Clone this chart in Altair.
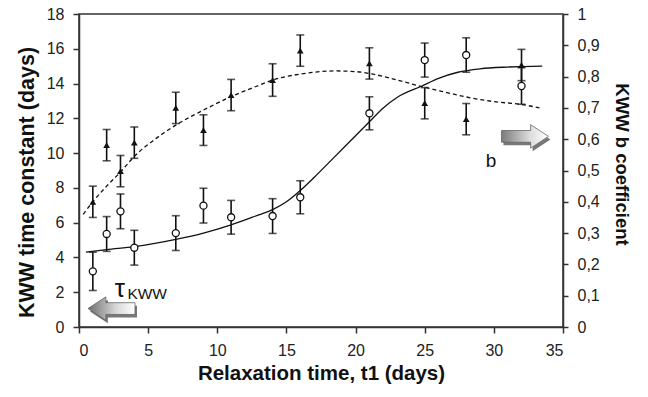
import altair as alt
import pandas as pd

# ---- data ----
t_x = [1, 2, 3, 4, 7, 9, 11, 14, 16, 21, 25, 28, 32]
tau = [3.2, 5.35, 6.65, 4.56, 5.4, 6.98, 6.31, 6.38, 7.46, 12.29, 15.35, 15.64, 13.86]
tau_err = [1.1, 1.0, 1.0, 1.0, 1.0, 1.0, 0.97, 1.0, 0.95, 0.95, 0.98, 0.99, 1.05]

b_x = [1, 2, 3, 4, 7, 9, 11, 14, 16, 21, 25, 28, 32]
b_val = [0.40, 0.581, 0.498, 0.589, 0.70, 0.629, 0.741, 0.789, 0.883, 0.842, 0.715, 0.664, 0.837]
b_err = [0.05, 0.05, 0.05, 0.05, 0.05, 0.049, 0.05, 0.052, 0.05, 0.05, 0.05, 0.05, 0.05]

tau_fit_x = [0.5, 2, 4, 7, 9, 11, 13, 14, 15, 16, 17, 18.5, 20, 21, 22, 23, 24.8, 26, 27.4, 29, 31, 33.5]
tau_fit_y = [4.3, 4.45, 4.62, 5.04, 5.4, 5.87, 6.45, 6.75, 7.2, 7.85, 8.6, 9.8, 11.0, 11.8, 12.6, 13.2, 13.86, 14.3, 14.65, 14.85, 14.95, 15.0]

b_fit_x = [0.3, 1, 2, 3, 4, 5.5, 7, 9, 11, 13, 14, 16, 18.5, 20, 21, 22.5, 24.8, 26.5, 28, 30, 32, 33.3]
b_fit_y = [0.36, 0.40, 0.45, 0.495, 0.545, 0.60, 0.645, 0.693, 0.736, 0.772, 0.789, 0.808, 0.818, 0.816, 0.81, 0.795, 0.768, 0.75, 0.735, 0.72, 0.711, 0.70]

# annotation anchors (data coordinates)
arrow_left = {"x": 2.35, "y": 1.06}
arrow_right = {"x": 32.25, "y": 0.609}
tau_label = {"x": 2.95, "y": 1.73}
kww_label = {"x": 3.5, "y": 1.62}
b_label = {"x": 29.8, "y": 0.511}

FONT = "Liberation Sans"

tau_df = pd.DataFrame({"x": t_x, "v": tau,
                       "lo": [v - e for v, e in zip(tau, tau_err)],
                       "hi": [v + e for v, e in zip(tau, tau_err)]})
b_df = pd.DataFrame({"x": b_x, "v": b_val,
                     "lo": [v - e for v, e in zip(b_val, b_err)],
                     "hi": [v + e for v, e in zip(b_val, b_err)]})
tau_fit = pd.DataFrame({"x": tau_fit_x, "v": tau_fit_y})
b_fit = pd.DataFrame({"x": b_fit_x, "v": b_fit_y})

common = dict(grid=False, labelFontSize=16, titleFontWeight="bold",
              domainColor="#333", tickColor="#333", domainWidth=1.5, tickWidth=1.5,
              labelColor="#222", titleColor="#111", labelFont=FONT, titleFont=FONT)

xscale = alt.Scale(domain=[0, 35], nice=False, zero=False)
xaxis = alt.Axis(title="Relaxation time, t1 (days)", values=list(range(0, 36, 5)),
                 titleFontSize=20.5, titlePadding=5, tickSize=6, labelPadding=9, **common)
X = alt.X("x:Q", scale=xscale, axis=xaxis)

lscale = alt.Scale(domain=[0, 18], nice=False, zero=False)
laxis = alt.Axis(title="KWW time constant (days)", values=list(range(0, 19, 2)),
                 titleFontSize=21.5, titlePadding=8, tickSize=6, labelPadding=9,
                 titleY=168, **common)

rscale = alt.Scale(domain=[0, 1], nice=False, zero=False)
raxis = alt.Axis(title="KWW b coefficient", orient="right",
                 values=[i / 10 for i in range(11)],
                 labelExpr="replace(format(datum.value, '.1~f'), '.', ',')",
                 titleFontSize=18.5, titlePadding=12, tickSize=5, labelPadding=9,
                 titleY=150, **common)

def YL(field):
    return alt.Y(f"{field}:Q", scale=lscale, axis=laxis)

def YR(field):
    return alt.Y(f"{field}:Q", scale=rscale, axis=raxis)

left_arrow_path = "M -1 0 L -0.24 -0.5 L -0.24 -0.25 L 1 -0.25 L 1 0.25 L -0.24 0.25 L -0.24 0.5 Z"
right_arrow_path = "M 1 0 L 0.24 -0.5 L 0.24 -0.25 L -1 -0.25 L -1 0.25 L 0.24 0.25 L 0.24 0.5 Z"

grad_left = alt.Gradient(gradient="linear", x1=0, y1=0, x2=1, y2=0,
                         stops=[alt.GradientStop(offset=0, color="#6e6e6e"),
                                alt.GradientStop(offset=0.6, color="#d8d8d8"),
                                alt.GradientStop(offset=1, color="#ffffff")])
grad_right = alt.Gradient(gradient="linear", x1=0, y1=0, x2=1, y2=0,
                          stops=[alt.GradientStop(offset=0, color="#7a7a7a"),
                                 alt.GradientStop(offset=0.6, color="#dcdcdc"),
                                 alt.GradientStop(offset=1, color="#ffffff")])

# ---- tau layer (left axis) ----
tau_curve = alt.Chart(tau_fit).mark_line(color="#111", strokeWidth=1.3, interpolate="monotone").encode(
    x=X, y=YL("v"))
tau_rule = alt.Chart(tau_df).mark_rule(color="#111", strokeWidth=1.6).encode(
    x=X, y=YL("lo"), y2="hi:Q")
tau_cap1 = alt.Chart(tau_df).mark_tick(color="#111", orient="horizontal", size=8, thickness=1.6).encode(
    x=X, y=YL("lo"))
tau_cap2 = alt.Chart(tau_df).mark_tick(color="#111", orient="horizontal", size=8, thickness=1.6).encode(
    x=X, y=YL("hi"))
tau_pts = alt.Chart(tau_df).mark_point(shape="circle", size=50, filled=True, fill="white",
                                       stroke="#111", strokeWidth=1.3, opacity=1).encode(
    x=X, y=YL("v"))

la_df = pd.DataFrame([arrow_left])
la_shadow = alt.Chart(la_df).mark_point(shape=left_arrow_path, size=2209, filled=True,
                                        fill="#555555", opacity=0.8, xOffset=2, yOffset=3).encode(
    x=X, y=YL("y"))
la = alt.Chart(la_df).mark_point(shape=left_arrow_path, size=2209, filled=True, fill=grad_left,
                                 stroke="#666", strokeWidth=0.8, opacity=1).encode(
    x=X, y=YL("y"))
tau_txt = alt.Chart(pd.DataFrame([{**tau_label, "t": "τ"}])).mark_text(
    font=FONT, fontSize=26, align="center", baseline="alphabetic", color="#111").encode(
    x=X, y=YL("y"), text="t:N")
kww_txt = alt.Chart(pd.DataFrame([{**kww_label, "t": "KWW"}])).mark_text(
    font=FONT, fontSize=15.5, align="left", baseline="alphabetic", color="#111").encode(
    x=X, y=YL("y"), text="t:N")

tau_layer = alt.layer(tau_curve, tau_rule, tau_cap1, tau_cap2, tau_pts, la_shadow, la, tau_txt, kww_txt)

# ---- b layer (right axis) ----
b_curve = alt.Chart(b_fit).mark_line(color="#111", strokeWidth=1.3, strokeDash=[4, 3],
                                     interpolate="monotone").encode(x=X, y=YR("v"))
b_rule = alt.Chart(b_df).mark_rule(color="#111", strokeWidth=1.6).encode(
    x=X, y=YR("lo"), y2="hi:Q")
b_cap1 = alt.Chart(b_df).mark_tick(color="#111", orient="horizontal", size=8, thickness=1.6).encode(
    x=X, y=YR("lo"))
b_cap2 = alt.Chart(b_df).mark_tick(color="#111", orient="horizontal", size=8, thickness=1.6).encode(
    x=X, y=YR("hi"))
b_pts = alt.Chart(b_df).mark_point(shape="triangle-up", size=45, filled=True, color="#111",
                                   opacity=1).encode(x=X, y=YR("v"))

ra_df = pd.DataFrame([arrow_right])
ra_shadow = alt.Chart(ra_df).mark_point(shape=right_arrow_path, size=2209, filled=True,
                                        fill="#555555", opacity=0.8, xOffset=2, yOffset=3).encode(
    x=X, y=YR("y"))
ra = alt.Chart(ra_df).mark_point(shape=right_arrow_path, size=2209, filled=True, fill=grad_right,
                                 stroke="#666", strokeWidth=0.8, opacity=1).encode(
    x=X, y=YR("y"))
b_txt = alt.Chart(pd.DataFrame([{**b_label, "t": "b"}])).mark_text(
    font=FONT, fontSize=19, align="center", baseline="alphabetic", color="#111").encode(
    x=X, y=YR("y"), text="t:N")

b_layer = alt.layer(b_curve, b_rule, b_cap1, b_cap2, b_pts, ra_shadow, ra, b_txt)

chart = alt.layer(tau_layer, b_layer).resolve_scale(y="independent").properties(
    width=484, height=313,
    autosize=alt.AutoSizeParams(type="none"),
    padding={"left": 79, "top": 14, "right": 85, "bottom": 70},
    background="white",
).configure_view(stroke="#333", strokeWidth=1.5)

chart.save("out.html", embed_options={"renderer": "svg", "actions": False})
